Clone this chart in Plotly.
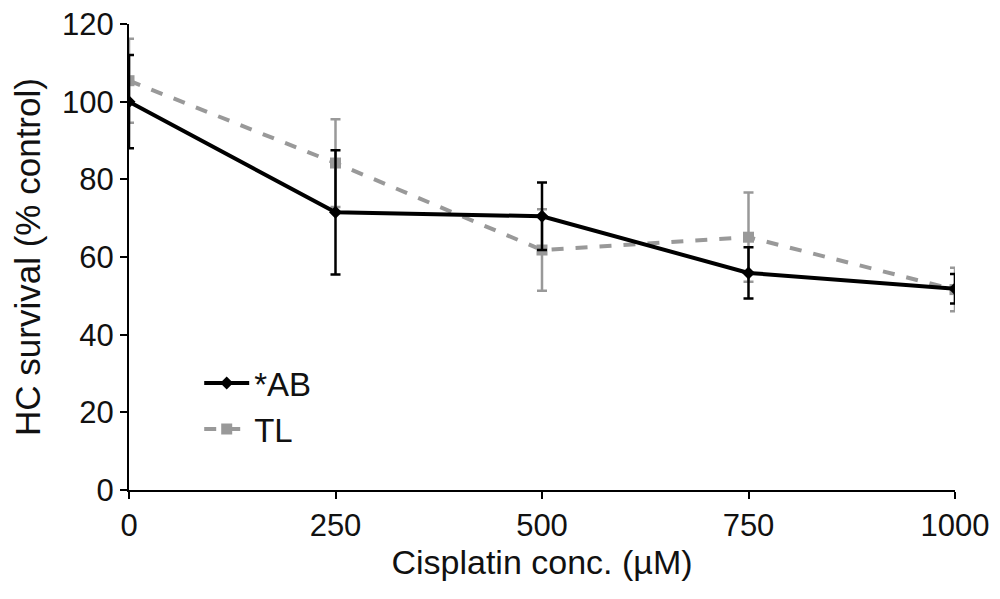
import plotly.graph_objects as go

# 顺铂浓度 (µM)
conc = [0, 250, 500, 750, 1000]

# *AB
ab_mean = [100, 71.5, 70.5, 55.9, 51.8]
ab_err = [12, 16, 8.7, 6.6, 3.8]

# TL
tl_mean = [105.4, 84.2, 61.8, 65.1, 51.6]
tl_err = [10.8, 11.3, 10.5, 11.5, 5.6]

fig = go.Figure()

fig.add_trace(go.Scatter(
    x=conc, y=tl_mean, name='TL', mode='lines+markers',
    line=dict(color='#999999', width=4, dash='dash'),
    marker=dict(symbol='square', size=11, color='#999999'),
    error_y=dict(type='data', array=tl_err, color='#999999', thickness=2.5, width=5),
))
fig.add_trace(go.Scatter(
    x=conc, y=ab_mean, name='*AB', mode='lines+markers',
    line=dict(color='black', width=4),
    marker=dict(symbol='diamond', size=10, color='black'),
    error_y=dict(type='data', array=ab_err, color='black', thickness=2.5, width=5),
))

# 页面 body 有 8px 边距，这里的边距已经扣掉
fig.update_layout(
    width=1000, height=599,
    paper_bgcolor='white', plot_bgcolor='white',
    margin=dict(l=121, r=53, t=16, b=117),
    font=dict(family='Liberation Sans, Arial', size=31, color='#111111'),
    showlegend=True,
    legend=dict(x=0.085, y=0.18, xanchor='left', yanchor='middle',
                traceorder='reversed', bgcolor='rgba(0,0,0,0)',
                font=dict(size=33), itemwidth=45, tracegroupgap=0),
)
fig.update_xaxes(
    range=[0, 1000], tickvals=conc, showgrid=False, zeroline=False,
    showline=True, linecolor='black', linewidth=2, automargin=False,
    ticks='outside', ticklen=7, tickwidth=2, tickcolor='black',
    tickfont=dict(size=31), ticklabeloverflow='allow',
    title=dict(text='Cisplatin conc. (µM)', standoff=4, font=dict(size=34)),
)
fig.update_yaxes(
    range=[0, 120], dtick=20, showgrid=False, zeroline=False,
    showline=True, linecolor='black', linewidth=2, automargin=False,
    ticks='outside', ticklen=7, tickwidth=2, tickcolor='black',
    tickfont=dict(size=31), ticklabeloverflow='allow',
    title=dict(text='HC survival (% control)', standoff=12, font=dict(size=35)),
)

fig.write_html('out.html')
